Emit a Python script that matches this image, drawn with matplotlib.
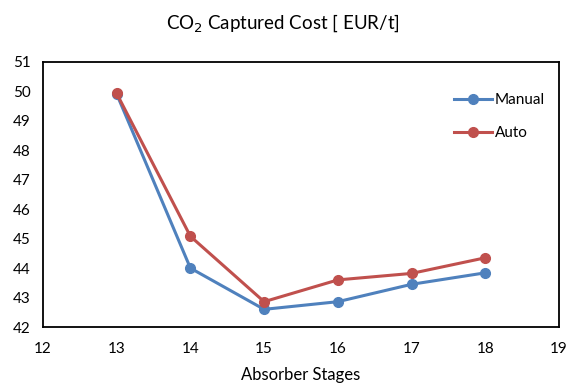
import matplotlib
matplotlib.use("Agg")
import matplotlib.pyplot as plt

stages = [13, 14, 15, 16, 17, 18]
manual = [49.91, 44.0, 42.6, 42.86, 43.45, 43.84]
auto = [49.93, 45.08, 42.86, 43.6, 43.82, 44.35]

plt.rcParams['font.family'] = ['Lato', 'DejaVu Sans']

fig = plt.figure(figsize=(5.68, 3.85), dpi=100)
ax = fig.add_axes([0.0757, 0.1506, 0.9083, 0.6884])

ax.plot(stages, manual, color='#4F81BD', lw=2.2, marker='o', ms=7, label='Manual')
ax.plot(stages, auto, color='#C0504D', lw=2.2, marker='o', ms=7, label='Auto')

ax.set_xlim(12, 19)
ax.set_ylim(42, 51)
ax.set_xticks(range(12, 20))
ax.set_yticks(range(42, 52))
ax.tick_params(axis='x', length=0, labelsize=11, pad=11)
ax.tick_params(axis='y', length=0, labelsize=11, pad=9)
for s in ax.spines.values():
    s.set_linewidth(1.3)
    s.set_color('black')

ax.set_xlabel('Absorber Stages', fontsize=12, labelpad=8)
fig.text(0.498, 0.94, r'CO$_2$ Captured Cost [ EUR/t]', ha='center', va='center', fontsize=13.5)

leg = ax.legend(loc='upper right', bbox_to_anchor=(1.0, 0.935), frameon=False,
                fontsize=11, handlelength=2.5, labelspacing=1.25, handletextpad=0.2)

fig.savefig('out.png', dpi=100)
